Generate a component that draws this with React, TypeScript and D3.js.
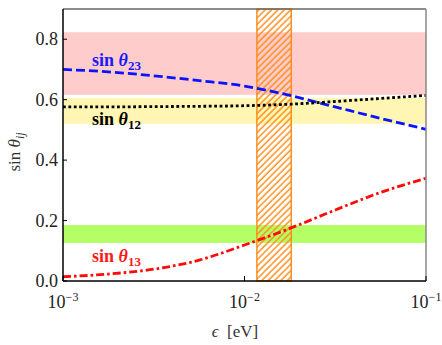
import React, { useEffect, useRef } from 'react';
import * as d3 from 'd3';

// log10(epsilon) sample positions
const logEps = [-3, -2.75, -2.5, -2.25, -2, -1.75, -1.5, -1.25, -1];
const sin23 = [0.700, 0.692, 0.679, 0.663, 0.645, 0.614, 0.576, 0.538, 0.502];
const sin12 = [0.576, 0.576, 0.577, 0.578, 0.580, 0.585, 0.594, 0.604, 0.614];
const sin13 = [0.014, 0.023, 0.039, 0.069, 0.119, 0.174, 0.235, 0.293, 0.340];

// experimental ranges
const band23 = [0.616, 0.823];
const band12 = [0.52, 0.606];
const band13 = [0.126, 0.185];
const epsBand = [0.0117, 0.0181];

const yTicks = [0, 0.2, 0.4, 0.6, 0.8];
const xTicks = [1e-3, 1e-2, 1e-1];
const xTickExp = ['−3', '−2', '−1'];

function App() {
  const ref = useRef<SVGSVGElement>(null);
  const width = 442;
  const height = 345;
  const margin = { top: 9, right: 16, bottom: 64, left: 63 };

  useEffect(() => {
    const svg = d3.select(ref.current);
    svg.selectAll('*').remove();
    const font = "'Liberation Serif', 'DejaVu Serif', serif";

    const x = d3.scaleLog().domain([1e-3, 1e-1]).range([margin.left, width - margin.right]);
    const y = d3.scaleLinear().domain([0, 0.9]).range([height - margin.bottom, margin.top]);
    const x0 = margin.left, x1 = width - margin.right;
    const y0 = height - margin.bottom, y1 = margin.top;

    const defs = svg.append('defs');
    const pat = defs.append('pattern')
      .attr('id', 'hatch')
      .attr('patternUnits', 'userSpaceOnUse')
      .attr('width', 4.5)
      .attr('height', 4.5)
      .attr('patternTransform', 'rotate(45)');
    pat.append('line')
      .attr('x1', 1).attr('y1', 0).attr('x2', 1).attr('y2', 4.5)
      .attr('stroke', '#ff8a14').attr('stroke-width', 1.4);

    // horizontal bands
    const bands: [number[], string][] = [
      [band23, '#ffcccc'],
      [band12, '#fff6b3'],
      [band13, '#b5ff66'],
    ];
    bands.forEach(([b, c]) => {
      svg.append('rect')
        .attr('x', x0).attr('width', x1 - x0)
        .attr('y', y(b[1])).attr('height', y(b[0]) - y(b[1]))
        .attr('fill', c);
    });

    // hatched epsilon band
    svg.append('rect')
      .attr('x', x(epsBand[0])).attr('width', x(epsBand[1]) - x(epsBand[0]))
      .attr('y', y1).attr('height', y0 - y1)
      .attr('fill', 'url(#hatch)')
      .attr('stroke', '#ff8a14').attr('stroke-width', 1.4);

    const line = (vals: number[]) => d3.line<number>()
      .x((d, i) => x(Math.pow(10, logEps[i])))
      .y((d) => y(d))
      .curve(d3.curveMonotoneX)(vals);

    svg.append('path').attr('d', line(sin23)).attr('fill', 'none')
      .attr('stroke', '#0a14ff').attr('stroke-width', 2.8).attr('stroke-dasharray', '9,4');
    svg.append('path').attr('d', line(sin12)).attr('fill', 'none')
      .attr('stroke', '#000').attr('stroke-width', 2.8).attr('stroke-dasharray', '2.8,2.6');
    svg.append('path').attr('d', line(sin13)).attr('fill', 'none')
      .attr('stroke', '#ff0a0a').attr('stroke-width', 2.8).attr('stroke-dasharray', '8,3,2.6,3');

    // frame
    svg.append('line').attr('x1', x0).attr('x2', x1).attr('y1', y1).attr('y2', y1)
      .attr('stroke', '#666').attr('stroke-width', 1.5);
    svg.append('line').attr('x1', x1).attr('x2', x1).attr('y1', y1).attr('y2', y0)
      .attr('stroke', '#888').attr('stroke-width', 1.5);
    svg.append('line').attr('x1', x0).attr('x2', x1).attr('y1', y0).attr('y2', y0)
      .attr('stroke', '#000').attr('stroke-width', 1.5);
    svg.append('line').attr('x1', x0).attr('x2', x0).attr('y1', y1).attr('y2', y0)
      .attr('stroke', '#000').attr('stroke-width', 1.5);

    // y ticks
    yTicks.forEach((t) => {
      svg.append('line').attr('x1', x0).attr('x2', x0 + 4).attr('y1', y(t)).attr('y2', y(t))
        .attr('stroke', '#000').attr('stroke-width', 1);
      svg.append('text')
        .attr('x', x0 - 5).attr('y', y(t) + 6)
        .attr('text-anchor', 'end')
        .style('font-family', font).style('font-size', '18px')
        .attr('fill', '#222')
        .text(d3.format('.1f')(t));
    });

    // x ticks
    xTicks.forEach((t, i) => {
      svg.append('line').attr('x1', x(t)).attr('x2', x(t)).attr('y1', y0).attr('y2', y0 - 5)
        .attr('stroke', '#000').attr('stroke-width', 1);
      const tx = svg.append('text')
        .attr('x', x(t)).attr('y', 308)
        .attr('text-anchor', 'middle')
        .style('font-family', font).style('font-size', '18px')
        .attr('fill', '#222');
      tx.append('tspan').text('10');
      tx.append('tspan').attr('dy', -7).style('font-size', '12px').text(xTickExp[i]);
    });

    // axis labels
    const yl = svg.append('text')
      .attr('transform', 'translate(20,152) rotate(-90)')
      .attr('text-anchor', 'middle')
      .style('font-family', font).style('font-size', '17px')
      .attr('fill', '#333');
    yl.append('tspan').text('sin ');
    yl.append('tspan').style('font-style', 'italic').text('θ');
    yl.append('tspan').attr('dy', 4).style('font-size', '12px').style('font-style', 'italic').text('ij');

    const xl = svg.append('text')
      .attr('x', 235).attr('y', 337)
      .attr('text-anchor', 'middle')
      .style('font-family', font).style('font-size', '17px')
      .attr('fill', '#333');
    xl.append('tspan').style('font-style', 'italic').text('ϵ');
    xl.append('tspan').attr('xml:space', 'preserve').text('  [eV]');

    // curve labels
    const curveLabel = (lx: number, ly: number, sub: string, color: string) => {
      const t = svg.append('text')
        .attr('x', lx).attr('y', ly)
        .style('font-family', font).style('font-size', '18px')
        .style('font-weight', 'bold')
        .attr('fill', color);
      t.append('tspan').text('sin ');
      t.append('tspan').style('font-style', 'italic').text('θ');
      t.append('tspan').attr('dy', 4).style('font-size', '13px').text(sub);
    };
    curveLabel(92, 66, '23', '#1a1aff');
    curveLabel(92, 125, '12', '#000');
    curveLabel(92, 262, '13', '#ff1a1a');
  }, []);

  return (
    <div style={{ position: 'fixed', left: 0, top: 0 }}>
      <svg ref={ref} width={width} height={height} style={{ display: 'block', background: '#fff' }} />
    </div>
  );
}

export default App;
